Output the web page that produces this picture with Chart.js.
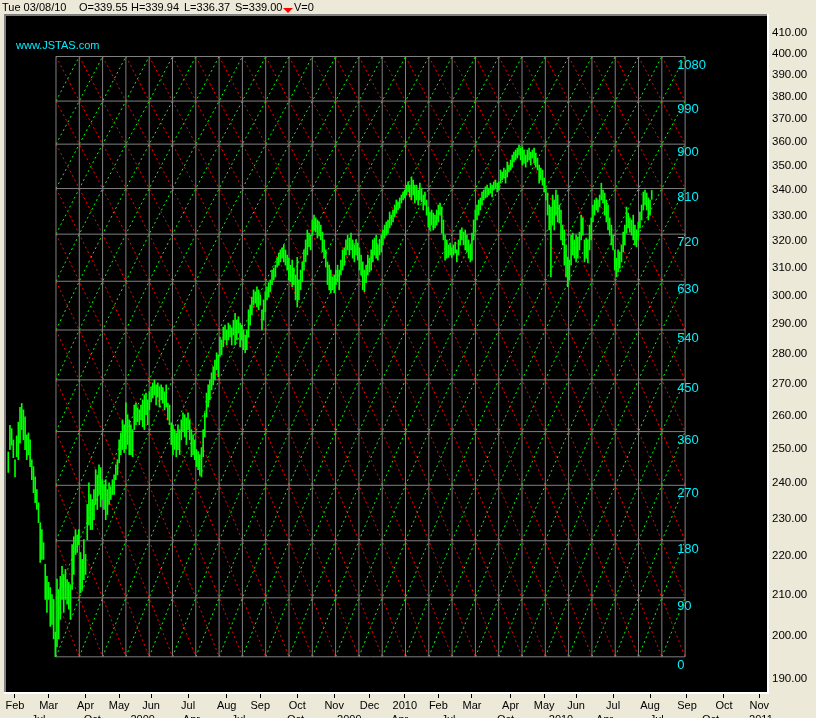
<!DOCTYPE html>
<html>
<head>
<meta charset="utf-8">
<script src="https://cdn.jsdelivr.net/npm/chart.js@4.4.1/dist/chart.umd.min.js"></script>
<style>
  html, body { margin: 0; padding: 0; background: #ece9d8; }
</style>
</head>
<body>
<canvas id="chart" width="816" height="718"></canvas>
<script>
// daily bars, x = trading day counted from 2 Feb 2009 (first bar is 4 days earlier)
const firstBar = -4;
const highs = [
  249, 257, 256, 252.6, 246.7, 253.8, 258, 262.6, 263.8, 261.8,
  259.6, 254.1, 254.7, 252.6, 246.7, 244.7, 241.7, 238.1, 234.4, 228.9,
  227, 223.5, 217.8, 214.7, 213.2, 211.9, 210.1, 208.9, 200.9, 214,
  211.4, 214.7, 217.3, 215.2, 216.5, 213.9, 213.2, 212.6, 223, 225.1,
  227, 225.6, 227, 220.9, 219.1, 224.3, 220.4, 233.9, 240, 236.7,
  235.3, 238.1, 243.8, 242.3, 245.2, 244.4, 240.9, 239.5, 240.9, 238.1,
  240, 238.9, 240.9, 242.3, 245.2, 246.7, 252.6, 254.7, 258.7, 257.2,
  264, 260.3, 258.7, 257.2, 255.7, 263.3, 263.9, 262.4, 261.8, 263.3,
  264.9, 266.5, 267.1, 264.9, 267.5, 269.1, 270.3, 271.3, 269.7, 270.3,
  269.1, 269.7, 268.8, 267.5, 269.7, 263.9, 263.3, 257.8, 257.2, 255.7,
  254.7, 257.2, 255.7, 258.7, 260.9, 260.3, 259.3, 260.9, 258.7, 255.7,
  254.1, 252.6, 249.7, 249.1, 248.2, 250.3, 255.7, 260.9, 267.1, 269.7,
  271.3, 273.6, 275.6, 277.8, 280.2, 279.5, 285.5, 284.5, 288.9, 289.6,
  287.9, 290.3, 289.6, 288.6, 291.3, 293.7, 291.3, 292.5, 290.3, 289.6,
  287.9, 286.2, 287.9, 294.9, 296.6, 299.4, 302, 301.3, 303.1, 302,
  300.2, 294.9, 298.4, 301.3, 303.1, 304.6, 305.6, 309.2, 309.9, 311,
  313.6, 315.5, 316.7, 317.5, 318.6, 316.7, 314.8, 313.6, 311, 312.9,
  309.9, 307.4, 313.9, 305.6, 309.2, 312.2, 316.7, 320.5, 324.3, 323.1,
  322.3, 328.2, 330.1, 329, 328.2, 327.4, 326.2, 323.5, 320.5, 316.7,
  312.2, 311, 309.2, 306.7, 307.4, 309.2, 311, 309.2, 312.9, 316.7,
  317.5, 320.5, 322.3, 321.2, 323.1, 320.5, 318.6, 320.5, 319.3, 317.5,
  314.8, 312.2, 309.2, 311, 314.8, 313.6, 316.7, 320.5, 321.2, 322.3,
  318.6, 320.5, 322.3, 324.3, 326.2, 327.4, 328.2, 331.3, 330.1, 332.1,
  334.1, 336.1, 335.3, 336.9, 338.1, 339.3, 340.1, 342.1, 343.4, 342.1,
  345.4, 344.2, 342.1, 342.1, 340.1, 342.9, 340.9, 338.1, 339.3, 336.1,
  333.3, 331.3, 332.1, 330.9, 330.1, 332.1, 334.1, 334.9, 333.3, 328.2,
  322.3, 320.5, 318.6, 319.3, 317.5, 318.6, 319.7, 316.7, 320.5, 324.3,
  325.1, 323.5, 324.3, 322.3, 320.5, 318.6, 323.1, 328.2, 332.1, 334.1,
  336.1, 336.9, 339.3, 340.1, 341.4, 342.1, 340.9, 342.9, 342.1, 343.4,
  344.2, 342.9, 343.4, 348.3, 347.5, 349.1, 348.3, 351.7, 350.4, 352.5,
  354.6, 355.8, 356.7, 357.5, 358.8, 357.5, 358, 356.7, 354.6, 356.7,
  357.5, 355.8, 356.7, 357.5, 355.4, 353.3, 350.4, 349.1, 348.3, 345,
  340.9, 338.9, 334.1, 333.3, 338.1, 336.1, 340.1, 338.1, 334.1, 332.1,
  326.2, 324.3, 318.6, 314, 312.9, 322.3, 323.1, 320.5, 322.3, 321.6,
  323.5, 330.1, 329, 320.5, 321.2, 320.5, 326.2, 329, 334.1, 336.1,
  336.9, 336.1, 338.1, 342.9, 340.1, 338.9, 336.1, 334.1, 329, 326.2,
  322.3, 316.7, 313.6, 316.7, 315.9, 318.6, 323.5, 326.2, 333.3, 330.9,
  329, 328.2, 330.1, 326.2, 324.3, 327.4, 331.3, 334.1, 339.3, 340.1,
  338.9, 336.9, 336.1, 339.94
];
const lows = [
  243, 249.7, 251, 247.3, 241.7, 247.6, 246.7, 251.7, 255.7, 252.6,
  249.7, 246.7, 248.2, 244.7, 240.9, 237.2, 234.4, 232.5, 228.9, 218.3,
  219.1, 219.1, 208.9, 205.7, 208.9, 202.3, 202.8, 199.3, 195.1, 197.5,
  199.3, 204, 208.9, 205.7, 208.9, 207.7, 206.5, 204, 211.4, 215.2,
  220.4, 220.9, 223, 210.6, 211.4, 213.9, 215.2, 224.3, 228.3, 227,
  227, 229.7, 233.9, 232.5, 236.7, 233.3, 235.3, 232.5, 229.7, 231.1,
  233.9, 235.3, 236.7, 236.7, 240.9, 242.3, 245.8, 248.2, 249.7, 248.8,
  250, 251.2, 248.2, 248.2, 247.6, 255.7, 257.2, 258.1, 257.2, 258.7,
  256.6, 255.7, 260.3, 257.2, 261.8, 264.3, 265.5, 266.5, 263.3, 265.8,
  262.7, 264.9, 263.9, 261.8, 262.7, 258.7, 257.2, 251.2, 248.2, 249.7,
  247.6, 249.7, 248.2, 252.6, 255.1, 253.5, 251.2, 255.7, 252.6, 247.6,
  248.2, 246.7, 244.7, 243.8, 242.3, 241.7, 247.6, 253.5, 259.6, 262.7,
  264.9, 268.1, 269.7, 271.3, 274.6, 272.3, 279, 279.5, 282.2, 284.5,
  282.8, 284.5, 285.5, 282.8, 286.2, 282.8, 284.5, 286.9, 282.2, 284.5,
  281.2, 280.2, 281.2, 285.5, 289.6, 293.1, 296.6, 297.3, 295.9, 294.9,
  296.6, 287.9, 291.3, 294.2, 298.4, 299.4, 301.3, 303.9, 305.6, 306.7,
  310.3, 311, 312.2, 313.6, 312.2, 311, 309.2, 305.6, 304.9, 303.1,
  303.9, 298.4, 295.9, 298.4, 302, 304.9, 309.2, 312.2, 314.8, 317.9,
  316.7, 322.3, 324.3, 323.5, 321.2, 322, 320.5, 315.9, 313.6, 310.3,
  303.9, 302, 300.9, 302, 300.9, 303.9, 304.9, 302, 307.4, 309.2,
  311, 314.8, 316.7, 314.8, 316.7, 313.6, 312.2, 314.8, 312.9, 309.2,
  307.4, 302, 301.3, 304.6, 307.4, 308.5, 309.2, 312.2, 314.8, 313.6,
  312.9, 314.8, 315.9, 318.6, 321.2, 322.3, 323.1, 325.1, 326.2, 327.4,
  329.4, 330.9, 332.1, 332.9, 334.9, 336.1, 336.9, 338.1, 339.3, 337.3,
  336.1, 338.1, 334.9, 336.1, 334.1, 336.1, 335.3, 332.1, 334.1, 330.1,
  325.4, 324.3, 326.2, 324.3, 325.1, 326.2, 327.4, 330.1, 323.1, 320.5,
  312.9, 313.6, 313.9, 314.8, 313.9, 314.8, 315.5, 312.2, 314.8, 318.6,
  320.5, 318.6, 316.7, 315.9, 313.6, 312.2, 312.9, 320.5, 323.5, 328.2,
  330.1, 332.1, 334.1, 336.1, 336.9, 337.3, 338.1, 338.9, 337.3, 340.1,
  340.9, 339.3, 340.1, 342.9, 344.2, 345, 342.9, 345.4, 347.5, 348.3,
  349.5, 351.7, 352.5, 353.3, 354.6, 352.5, 350.4, 351.2, 349.5, 351.7,
  352.5, 350.4, 353.3, 351.2, 349.5, 348.3, 342.9, 344.2, 342.1, 339.3,
  336.1, 330.1, 324.3, 306.7, 326.2, 324.3, 330.1, 327.4, 327, 320.5,
  318.6, 311, 306.7, 303.1, 305.6, 311, 314.8, 313.6, 312.2, 313.6,
  316.7, 320.5, 322.3, 312.2, 313.6, 311.8, 316.7, 320.5, 327.4, 330.1,
  332.1, 331.3, 333.3, 336.1, 334.9, 330.1, 327.4, 324.3, 322.3, 318.6,
  316.7, 309.2, 306.7, 308.5, 309.9, 312.2, 315.9, 318.6, 323.1, 325.1,
  323.5, 322.3, 320.5, 318.6, 317.9, 320.5, 325.1, 328.2, 332.1, 334.1,
  332.1, 328.2, 330.1, 336.37
];

// bottom axis
const monthIdx = [0, 20, 42, 62, 81, 103, 126, 146, 168, 190, 211, 232, 252, 272, 295, 315, 334, 356, 378, 400, 422, 443];
const monthLabels = ['Feb', 'Mar', 'Apr', 'May', 'Jun', 'Jul', 'Aug', 'Sep', 'Oct', 'Nov', 'Dec', '2010',
                     'Feb', 'Mar', 'Apr', 'May', 'Jun', 'Jul', 'Aug', 'Sep', 'Oct', 'Nov'];
const quarterIdx = [14, 46, 76, 105, 133, 167, 199, 229, 258, 292, 325, 351, 382, 414, 444];
const quarterLabels = ['Jul', 'Oct', '2009', 'Apr', 'Jul', 'Oct', '2009', 'Apr', 'Jul', 'Oct', '2010', 'Apr', 'Jul', 'Oct', '2011'];

// right axis
const priceTicks = [190, 200, 210, 220, 230, 240, 250, 260, 270, 280, 290, 300,
                    310, 320, 330, 340, 350, 360, 370, 380, 390, 400, 410];

// gann box from the March 2009 low
const gannLevels = [195.1, 209.3, 224.0, 239.3, 255.1, 271.3, 287.9, 305.1, 322.7, 340.7, 359.2, 378.1, 398.7];
const gannLabels = ['0', '90', '180', '270', '360', '450', '540', '630', '720', '810', '900', '990', '1080'];
const gannStart = 24.4;
const gannStep = 13.87;
const gannCols = 27;

const header = [
  ['Tue 03/08/10', 2], ['O=339.55', 79], ['H=339.94', 131], ['L=336.37', 184], ['S=339.00', 235], ['V=0', 294]
];

const FONT = '"Liberation Sans", Arial, sans-serif';
const NARROW = '"Liberation Sans Narrow", "Liberation Sans", Arial, sans-serif';

// build gann lattice
const colX = [];
for (let j = 0; j <= gannCols; j++) colX.push(gannStart + j * gannStep);
const rows = gannLevels.length - 1;
const gap = (x) => ({ x: x, y: null });

const gridPts = [];
gannLevels.forEach(p => {
  gridPts.push({ x: colX[0], y: p }, { x: colX[gannCols], y: p }, gap(colX[gannCols]));
});
colX.forEach(x => {
  gridPts.push({ x: x, y: gannLevels[0] }, { x: x, y: gannLevels[rows] }, gap(x));
});

const redPts = [];
for (let s = 1; s < gannCols + rows; s++) {
  for (let j = 0; j <= gannCols; j++) {
    const k = s - j;
    if (k >= 0 && k <= rows) redPts.push({ x: colX[j], y: gannLevels[k] });
  }
  redPts.push(gap(colX[0]));
}
const greenPts = [];
for (let d = -(rows - 1); d < gannCols; d++) {
  for (let j = 0; j <= gannCols; j++) {
    const k = j - d;
    if (k >= 0 && k <= rows) greenPts.push({ x: colX[j], y: gannLevels[k] });
  }
  greenPts.push(gap(colX[0]));
}

const bars = highs.map((h, i) => ({ x: firstBar + i, y: [lows[i], h] }));

// background, frame and texts
const frame = {
  id: 'frame',
  beforeDraw(chart) {
    const { ctx, chartArea: a } = chart;
    ctx.save();
    ctx.fillStyle = '#ece9d8';
    ctx.fillRect(0, 0, chart.width, chart.height);
    ctx.fillStyle = '#000';
    ctx.fillRect(a.left, a.top, a.right - a.left, a.bottom - a.top);
    ctx.fillStyle = '#00f0ff';
    ctx.font = '11px ' + FONT;
    ctx.textBaseline = 'alphabetic';
    ctx.fillText('www.JSTAS.com', 16, 49);
    ctx.restore();
  },
  afterDatasetsDraw(chart) {
    const { ctx, scales: { x, y } } = chart;
    ctx.save();
    ctx.font = '13px ' + FONT;
    ctx.fillStyle = '#00f0ff';
    ctx.textBaseline = 'middle';
    const lx = x.getPixelForValue(colX[gannCols]) - 8;
    gannLevels.forEach((p, k) => ctx.fillText(gannLabels[k], lx, y.getPixelForValue(p) + 8.5));
    ctx.restore();
  },
  afterDraw(chart) {
    const { ctx, chartArea: a, scales: { x } } = chart;
    ctx.save();
    ctx.fillStyle = '#808080';
    ctx.fillRect(4, a.top - 2, a.right - 2, 2);
    ctx.fillRect(4, a.top - 2, 2, a.bottom - a.top + 2);
    ctx.fillStyle = '#ffffff';
    ctx.fillRect(a.right, a.top - 2, 2, a.bottom - a.top + 4);
    ctx.fillRect(4, a.bottom, a.right - 2, 2);

    ctx.fillStyle = '#000';
    ctx.font = '11px ' + FONT;
    ctx.textBaseline = 'alphabetic';
    header.forEach(([t, px]) => ctx.fillText(t, px, 11));
    ctx.fillStyle = '#ff0000';
    ctx.beginPath();
    ctx.moveTo(283, 8);
    ctx.lineTo(293, 8);
    ctx.lineTo(288, 13);
    ctx.closePath();
    ctx.fill();

    ctx.fillStyle = '#000';
    ctx.font = '11px ' + NARROW;
    ctx.textAlign = 'center';
    quarterIdx.forEach((v, i) => ctx.fillText(quarterLabels[i], x.getPixelForValue(v), 723));
    ctx.restore();
  }
};

new Chart(document.getElementById('chart'), {
  type: 'bar',
  data: {
    datasets: [
      {
        type: 'bar',
        data: bars,
        backgroundColor: '#00ff00',
        borderWidth: 0,
        barThickness: 1,
        order: 0
      },
      {
        type: 'line',
        data: gridPts,
        borderColor: '#808080',
        borderWidth: 1,
        pointRadius: 0,
        spanGaps: false,
        order: 1
      },
      {
        type: 'line',
        data: redPts,
        borderColor: '#ff0000',
        borderWidth: 1,
        borderDash: [2, 3],
        pointRadius: 0,
        spanGaps: false,
        order: 2
      },
      {
        type: 'line',
        data: greenPts,
        borderColor: '#00ff00',
        borderWidth: 1,
        borderDash: [2, 3],
        pointRadius: 0,
        spanGaps: false,
        order: 3
      }
    ]
  },
  options: {
    responsive: false,
    animation: false,
    layout: { padding: { left: 6, top: 16, right: 0, bottom: 0 } },
    plugins: { legend: { display: false }, tooltip: { enabled: false } },
    scales: {
      x: {
        type: 'linear',
        min: -5.357,
        max: 447.62,
        offset: false,
        afterBuildTicks: (axis) => { axis.ticks = monthIdx.map(v => ({ value: v })); },
        afterFit: (axis) => { axis.height = 26; },
        ticks: {
          autoSkip: false,
          maxRotation: 0,
          padding: 1,
          color: '#000',
          font: { family: NARROW, size: 11 },
          callback: (v) => monthLabels[monthIdx.indexOf(v)]
        },
        grid: { offset: false, drawOnChartArea: false, tickLength: 6, tickColor: '#000', tickWidth: 1 },
        border: { display: false }
      },
      y: {
        type: 'logarithmic',
        position: 'right',
        min: 187.1,
        max: 418.4,
        afterBuildTicks: (axis) => { axis.ticks = priceTicks.map(v => ({ value: v })); },
        afterFit: (axis) => { axis.width = 49; },
        ticks: {
          padding: 5,
          color: '#000',
          font: { family: FONT, size: 11.5 },
          callback: (v) => Number(v).toFixed(2)
        },
        grid: { drawOnChartArea: false, drawTicks: false },
        border: { display: false }
      }
    }
  },
  plugins: [frame]
});
</script>
</body>
</html>
